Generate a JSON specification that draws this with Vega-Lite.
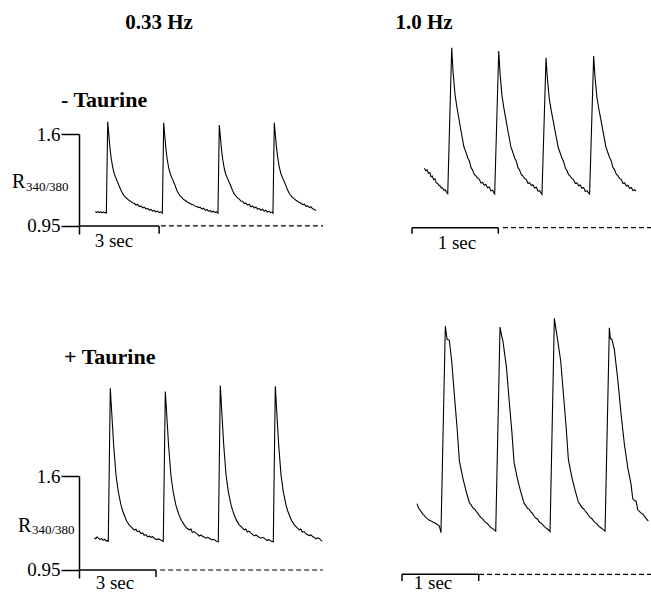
{
"$schema": "https://vega.github.io/schema/vega-lite/v6.json",
"autosize": {"type": "pad"},
"padding": {"left": 11, "top": 11, "right": 0, "bottom": 0},
"background": "white",
"config": {"view": {"stroke": null}, "font": "'Liberation Serif', 'Times New Roman', 'DejaVu Serif', serif", "text": {"font": "'Liberation Serif', 'Times New Roman', 'DejaVu Serif', serif"}, "axis": {"labelFont": "'Liberation Serif', 'Times New Roman', 'DejaVu Serif', serif"}},
"columns": 2,
"spacing": {"row": 242, "column": 79},
"bounds": "flush",
"datasets": {
"tl": [
{"t":0.610,"r":1.052},{"t":0.660,"r":1.046},{"t":0.710,"r":1.051},{"t":0.760,"r":1.045},{"t":0.810,"r":1.050},{"t":0.860,"r":1.043},{"t":0.910,"r":1.049},{"t":0.960,"r":1.044},{"t":1.000,"r":1.047},{"t":1.025,"r":1.038},
{"t":1.075,"r":1.687},{"t":1.110,"r":1.610},{"t":1.150,"r":1.520},{"t":1.199,"r":1.437},{"t":1.262,"r":1.365},{"t":1.322,"r":1.318},{"t":1.375,"r":1.292},{"t":1.423,"r":1.270},{"t":1.465,"r":1.252},{"t":1.509,"r":1.230},{"t":1.565,"r":1.205},{"t":1.637,"r":1.178},{"t":1.695,"r":1.163},{"t":1.755,"r":1.150},{"t":1.824,"r":1.139},{"t":1.885,"r":1.128},{"t":1.945,"r":1.124},{"t":2.005,"r":1.112},{"t":2.071,"r":1.110},{"t":2.135,"r":1.098},{"t":2.195,"r":1.102},{"t":2.255,"r":1.088},{"t":2.322,"r":1.090},{"t":2.385,"r":1.078},{"t":2.445,"r":1.083},{"t":2.505,"r":1.070},{"t":2.573,"r":1.074},{"t":2.635,"r":1.062},{"t":2.695,"r":1.067},{"t":2.755,"r":1.055},{"t":2.820,"r":1.060},{"t":2.875,"r":1.050},{"t":2.935,"r":1.055},{"t":2.995,"r":1.046},{"t":3.055,"r":1.050},{"t":3.122,"r":1.040},
{"t":3.172,"r":1.680},{"t":3.207,"r":1.600},{"t":3.247,"r":1.512},{"t":3.296,"r":1.430},{"t":3.359,"r":1.360},{"t":3.419,"r":1.318},{"t":3.472,"r":1.292},{"t":3.520,"r":1.272},{"t":3.562,"r":1.254},{"t":3.606,"r":1.233},{"t":3.662,"r":1.203},{"t":3.734,"r":1.178},{"t":3.792,"r":1.160},{"t":3.852,"r":1.152},{"t":3.921,"r":1.137},{"t":3.982,"r":1.130},{"t":4.042,"r":1.121},{"t":4.102,"r":1.114},{"t":4.168,"r":1.108},{"t":4.232,"r":1.100},{"t":4.292,"r":1.100},{"t":4.352,"r":1.089},{"t":4.419,"r":1.088},{"t":4.482,"r":1.080},{"t":4.542,"r":1.082},{"t":4.602,"r":1.069},{"t":4.670,"r":1.075},{"t":4.732,"r":1.060},{"t":4.792,"r":1.066},{"t":4.852,"r":1.054},{"t":4.917,"r":1.058},{"t":4.972,"r":1.048},{"t":5.032,"r":1.054},{"t":5.092,"r":1.045},{"t":5.152,"r":1.049},{"t":5.205,"r":1.040},
{"t":5.255,"r":1.664},{"t":5.290,"r":1.590},{"t":5.330,"r":1.505},{"t":5.379,"r":1.425},{"t":5.442,"r":1.356},{"t":5.502,"r":1.312},{"t":5.555,"r":1.288},{"t":5.603,"r":1.268},{"t":5.645,"r":1.250},{"t":5.689,"r":1.230},{"t":5.745,"r":1.204},{"t":5.817,"r":1.175},{"t":5.875,"r":1.162},{"t":5.935,"r":1.148},{"t":6.004,"r":1.140},{"t":6.065,"r":1.126},{"t":6.125,"r":1.125},{"t":6.185,"r":1.110},{"t":6.251,"r":1.111},{"t":6.315,"r":1.097},{"t":6.375,"r":1.103},{"t":6.435,"r":1.086},{"t":6.502,"r":1.091},{"t":6.565,"r":1.077},{"t":6.625,"r":1.084},{"t":6.685,"r":1.069},{"t":6.753,"r":1.073},{"t":6.815,"r":1.061},{"t":6.875,"r":1.068},{"t":6.935,"r":1.054},{"t":7.000,"r":1.061},{"t":7.055,"r":1.048},{"t":7.115,"r":1.053},{"t":7.175,"r":1.044},{"t":7.230,"r":1.048},{"t":7.265,"r":1.040},
{"t":7.315,"r":1.680},{"t":7.350,"r":1.605},{"t":7.390,"r":1.518},{"t":7.439,"r":1.440},{"t":7.502,"r":1.365},{"t":7.562,"r":1.320},{"t":7.615,"r":1.294},{"t":7.663,"r":1.274},{"t":7.705,"r":1.256},{"t":7.749,"r":1.235},{"t":7.805,"r":1.208},{"t":7.877,"r":1.179},{"t":7.935,"r":1.165},{"t":7.995,"r":1.150},{"t":8.064,"r":1.141},{"t":8.125,"r":1.132},{"t":8.185,"r":1.125},{"t":8.245,"r":1.116},{"t":8.311,"r":1.112},{"t":8.375,"r":1.100},{"t":8.435,"r":1.104},{"t":8.495,"r":1.090},{"t":8.562,"r":1.092},{"t":8.625,"r":1.080},{"t":8.685,"r":1.086},{"t":8.745,"r":1.072},{"t":8.812,"r":1.068},{"t":8.876,"r":1.058}
],
"tr": [
{"t":0.143,"r":1.370},{"t":0.160,"r":1.352},{"t":0.175,"r":1.358},{"t":0.190,"r":1.335},{"t":0.205,"r":1.340},{"t":0.220,"r":1.310},{"t":0.235,"r":1.315},{"t":0.250,"r":1.290},{"t":0.265,"r":1.295},{"t":0.280,"r":1.268},{"t":0.297,"r":1.262},{"t":0.312,"r":1.250},{"t":0.326,"r":1.245},{"t":0.340,"r":1.230},{"t":0.355,"r":1.232},{"t":0.370,"r":1.214},{"t":0.385,"r":1.218},{"t":0.400,"r":1.200},{"t":0.414,"r":1.190},
{"t":0.460,"r":2.222},{"t":0.475,"r":2.057},{"t":0.498,"r":1.893},{"t":0.521,"r":1.798},{"t":0.548,"r":1.704},{"t":0.568,"r":1.633},{"t":0.590,"r":1.560},{"t":0.599,"r":1.527},{"t":0.615,"r":1.500},{"t":0.626,"r":1.480},{"t":0.645,"r":1.445},{"t":0.665,"r":1.420},{"t":0.684,"r":1.374},{"t":0.700,"r":1.360},{"t":0.722,"r":1.327},{"t":0.740,"r":1.318},{"t":0.760,"r":1.300},{"t":0.780,"r":1.292},{"t":0.800,"r":1.265},{"t":0.818,"r":1.270},{"t":0.838,"r":1.250},{"t":0.856,"r":1.256},{"t":0.875,"r":1.232},{"t":0.896,"r":1.238},{"t":0.915,"r":1.210},{"t":0.935,"r":1.215},{"t":0.947,"r":1.197},{"t":0.958,"r":1.188},
{"t":1.005,"r":2.199},{"t":1.020,"r":2.040},{"t":1.043,"r":1.880},{"t":1.066,"r":1.790},{"t":1.093,"r":1.700},{"t":1.113,"r":1.628},{"t":1.135,"r":1.560},{"t":1.144,"r":1.525},{"t":1.160,"r":1.497},{"t":1.171,"r":1.478},{"t":1.190,"r":1.442},{"t":1.210,"r":1.418},{"t":1.229,"r":1.372},{"t":1.245,"r":1.360},{"t":1.267,"r":1.325},{"t":1.285,"r":1.316},{"t":1.305,"r":1.298},{"t":1.325,"r":1.290},{"t":1.345,"r":1.262},{"t":1.363,"r":1.268},{"t":1.383,"r":1.248},{"t":1.401,"r":1.254},{"t":1.420,"r":1.230},{"t":1.441,"r":1.236},{"t":1.460,"r":1.208},{"t":1.480,"r":1.212},{"t":1.495,"r":1.195},{"t":1.506,"r":1.186},
{"t":1.553,"r":2.151},{"t":1.568,"r":2.010},{"t":1.591,"r":1.860},{"t":1.614,"r":1.775},{"t":1.641,"r":1.690},{"t":1.661,"r":1.622},{"t":1.683,"r":1.555},{"t":1.692,"r":1.520},{"t":1.708,"r":1.494},{"t":1.719,"r":1.474},{"t":1.738,"r":1.440},{"t":1.758,"r":1.415},{"t":1.777,"r":1.370},{"t":1.793,"r":1.358},{"t":1.815,"r":1.324},{"t":1.833,"r":1.315},{"t":1.853,"r":1.296},{"t":1.873,"r":1.288},{"t":1.893,"r":1.262},{"t":1.911,"r":1.266},{"t":1.931,"r":1.246},{"t":1.949,"r":1.252},{"t":1.968,"r":1.228},{"t":1.989,"r":1.234},{"t":2.008,"r":1.206},{"t":2.028,"r":1.212},{"t":2.045,"r":1.196},{"t":2.058,"r":1.188},
{"t":2.105,"r":2.163},{"t":2.120,"r":2.020},{"t":2.143,"r":1.870},{"t":2.166,"r":1.785},{"t":2.193,"r":1.700},{"t":2.213,"r":1.630},{"t":2.235,"r":1.560},{"t":2.244,"r":1.527},{"t":2.260,"r":1.498},{"t":2.271,"r":1.478},{"t":2.290,"r":1.445},{"t":2.310,"r":1.420},{"t":2.329,"r":1.375},{"t":2.345,"r":1.362},{"t":2.367,"r":1.328},{"t":2.385,"r":1.318},{"t":2.405,"r":1.298},{"t":2.425,"r":1.290},{"t":2.445,"r":1.262},{"t":2.463,"r":1.268},{"t":2.483,"r":1.245},{"t":2.501,"r":1.250},{"t":2.520,"r":1.228},{"t":2.541,"r":1.234},{"t":2.560,"r":1.212},{"t":2.578,"r":1.218},{"t":2.596,"r":1.209}
],
"bl": [
{"t":0.596,"r":1.173},{"t":0.650,"r":1.166},{"t":0.700,"r":1.178},{"t":0.760,"r":1.170},{"t":0.820,"r":1.160},{"t":0.880,"r":1.168},{"t":0.940,"r":1.155},{"t":1.000,"r":1.162},{"t":1.060,"r":1.150},{"t":1.110,"r":1.156},{"t":1.141,"r":1.145},
{"t":1.219,"r":2.206},{"t":1.274,"r":2.041},{"t":1.351,"r":1.811},{"t":1.441,"r":1.605},{"t":1.531,"r":1.490},{"t":1.636,"r":1.398},{"t":1.700,"r":1.360},{"t":1.764,"r":1.329},{"t":1.850,"r":1.290},{"t":1.959,"r":1.260},{"t":2.050,"r":1.245},{"t":2.154,"r":1.226},{"t":2.220,"r":1.232},{"t":2.270,"r":1.215},{"t":2.340,"r":1.220},{"t":2.415,"r":1.202},{"t":2.480,"r":1.206},{"t":2.540,"r":1.190},{"t":2.610,"r":1.195},{"t":2.676,"r":1.179},{"t":2.740,"r":1.184},{"t":2.800,"r":1.176},{"t":2.870,"r":1.180},{"t":2.933,"r":1.168},{"t":3.030,"r":1.160},{"t":3.100,"r":1.165},{"t":3.200,"r":1.155},{"t":3.284,"r":1.148},
{"t":3.362,"r":2.184},{"t":3.417,"r":2.025},{"t":3.494,"r":1.800},{"t":3.584,"r":1.598},{"t":3.674,"r":1.485},{"t":3.779,"r":1.395},{"t":3.843,"r":1.358},{"t":3.907,"r":1.326},{"t":3.993,"r":1.292},{"t":4.102,"r":1.262},{"t":4.193,"r":1.240},{"t":4.297,"r":1.228},{"t":4.360,"r":1.233},{"t":4.413,"r":1.210},{"t":4.490,"r":1.214},{"t":4.558,"r":1.205},{"t":4.620,"r":1.196},{"t":4.683,"r":1.185},{"t":4.750,"r":1.192},{"t":4.819,"r":1.182},{"t":4.880,"r":1.178},{"t":4.943,"r":1.170},{"t":5.010,"r":1.176},{"t":5.076,"r":1.170},{"t":5.173,"r":1.158},{"t":5.243,"r":1.162},{"t":5.340,"r":1.150},{"t":5.426,"r":1.145},
{"t":5.504,"r":2.225},{"t":5.559,"r":2.055},{"t":5.636,"r":1.820},{"t":5.726,"r":1.610},{"t":5.816,"r":1.492},{"t":5.921,"r":1.400},{"t":5.985,"r":1.362},{"t":6.049,"r":1.330},{"t":6.135,"r":1.293},{"t":6.244,"r":1.262},{"t":6.335,"r":1.246},{"t":6.439,"r":1.228},{"t":6.500,"r":1.234},{"t":6.555,"r":1.213},{"t":6.630,"r":1.218},{"t":6.700,"r":1.205},{"t":6.760,"r":1.196},{"t":6.825,"r":1.186},{"t":6.890,"r":1.192},{"t":6.961,"r":1.183},{"t":7.020,"r":1.176},{"t":7.085,"r":1.170},{"t":7.150,"r":1.176},{"t":7.218,"r":1.170},{"t":7.315,"r":1.155},{"t":7.385,"r":1.160},{"t":7.480,"r":1.150},{"t":7.569,"r":1.145},
{"t":7.647,"r":2.220},{"t":7.702,"r":2.050},{"t":7.779,"r":1.815},{"t":7.869,"r":1.608},{"t":7.959,"r":1.490},{"t":8.064,"r":1.398},{"t":8.128,"r":1.360},{"t":8.192,"r":1.330},{"t":8.278,"r":1.292},{"t":8.387,"r":1.262},{"t":8.478,"r":1.244},{"t":8.582,"r":1.228},{"t":8.640,"r":1.234},{"t":8.698,"r":1.212},{"t":8.770,"r":1.216},{"t":8.843,"r":1.200},{"t":8.905,"r":1.194},{"t":8.968,"r":1.188},{"t":9.040,"r":1.192},{"t":9.104,"r":1.180},{"t":9.165,"r":1.176},{"t":9.228,"r":1.165},{"t":9.300,"r":1.172},{"t":9.361,"r":1.168},{"t":9.420,"r":1.156},{"t":9.466,"r":1.150}
],
"br": [
{"t":0.196,"r":1.437},{"t":0.210,"r":1.415},{"t":0.226,"r":1.398},{"t":0.245,"r":1.385},{"t":0.270,"r":1.364},{"t":0.290,"r":1.356},{"t":0.313,"r":1.340},{"t":0.335,"r":1.332},{"t":0.356,"r":1.322},{"t":0.378,"r":1.318},{"t":0.400,"r":1.310},{"t":0.430,"r":1.304},{"t":0.456,"r":1.295},{"t":0.486,"r":1.283},{"t":0.508,"r":1.237},
{"t":0.565,"r":2.661},{"t":0.587,"r":2.570},{"t":0.617,"r":2.563},{"t":0.648,"r":2.420},{"t":0.682,"r":2.190},{"t":0.718,"r":1.960},{"t":0.748,"r":1.731},{"t":0.792,"r":1.616},{"t":0.835,"r":1.524},{"t":0.878,"r":1.443},{"t":0.900,"r":1.430},{"t":0.922,"r":1.409},{"t":0.945,"r":1.400},{"t":0.965,"r":1.386},{"t":0.990,"r":1.370},{"t":1.010,"r":1.352},{"t":1.031,"r":1.340},{"t":1.055,"r":1.330},{"t":1.075,"r":1.315},{"t":1.096,"r":1.306},{"t":1.120,"r":1.295},{"t":1.140,"r":1.282},{"t":1.161,"r":1.271},{"t":1.185,"r":1.265},{"t":1.205,"r":1.255},{"t":1.222,"r":1.248},
{"t":1.278,"r":2.654},{"t":1.300,"r":2.590},{"t":1.315,"r":2.560},{"t":1.361,"r":2.380},{"t":1.395,"r":2.160},{"t":1.431,"r":1.940},{"t":1.461,"r":1.720},{"t":1.505,"r":1.608},{"t":1.548,"r":1.518},{"t":1.591,"r":1.440},{"t":1.613,"r":1.425},{"t":1.635,"r":1.405},{"t":1.658,"r":1.398},{"t":1.678,"r":1.382},{"t":1.703,"r":1.368},{"t":1.723,"r":1.350},{"t":1.744,"r":1.338},{"t":1.768,"r":1.330},{"t":1.788,"r":1.312},{"t":1.809,"r":1.304},{"t":1.833,"r":1.292},{"t":1.853,"r":1.280},{"t":1.874,"r":1.270},{"t":1.898,"r":1.262},{"t":1.918,"r":1.252},{"t":1.930,"r":1.245},
{"t":1.986,"r":2.714},{"t":2.010,"r":2.630},{"t":2.030,"r":2.560},{"t":2.069,"r":2.420},{"t":2.103,"r":2.200},{"t":2.139,"r":1.970},{"t":2.169,"r":1.740},{"t":2.213,"r":1.622},{"t":2.256,"r":1.530},{"t":2.299,"r":1.448},{"t":2.321,"r":1.432},{"t":2.343,"r":1.412},{"t":2.366,"r":1.402},{"t":2.386,"r":1.388},{"t":2.411,"r":1.372},{"t":2.431,"r":1.355},{"t":2.452,"r":1.342},{"t":2.476,"r":1.333},{"t":2.496,"r":1.318},{"t":2.517,"r":1.308},{"t":2.541,"r":1.298},{"t":2.561,"r":1.284},{"t":2.582,"r":1.274},{"t":2.606,"r":1.266},{"t":2.626,"r":1.256},{"t":2.647,"r":1.248},
{"t":2.703,"r":2.649},{"t":2.716,"r":2.575},{"t":2.735,"r":2.570},{"t":2.768,"r":2.500},{"t":2.813,"r":2.290},{"t":2.856,"r":2.053},{"t":2.899,"r":1.846},{"t":2.943,"r":1.685},{"t":2.986,"r":1.570},{"t":3.008,"r":1.470},{"t":3.030,"r":1.458},{"t":3.051,"r":1.455},{"t":3.073,"r":1.396},{"t":3.110,"r":1.375},{"t":3.139,"r":1.364},{"t":3.175,"r":1.340},{"t":3.211,"r":1.317}
]
},
"concat": [
{
"width": 244, "height": 100,
"encoding": {
"x": {"field": "t", "type": "quantitative", "scale": {"domain": [0, 9.139], "nice": false, "zero": false}, "axis": null},
"y": {"field": "r", "type": "quantitative", "scale": {"domain": [0.893, 1.6], "nice": false, "zero": false},
"axis": {"values": [0.95, 1.6], "format": ".3~g", "title": null, "grid": false, "domainColor": "black", "domainWidth": 1.5, "tickColor": "black", "tickWidth": 1.5, "tickSize": 18, "labelPadding": 1, "labelFontSize": 19, "labelColor": "black"}}
},
"layer": [
{"data": {"name": "tl"}, "mark": {"type": "line", "color": "black", "strokeWidth": 1.1}, "encoding": {}},
{"data": {"values": [{"t":0,"t2":3,"r":0.95,"r2":0.95},{"t":3,"t2":3,"r":0.95,"r2":0.895}]}, "mark": {"type": "rule", "color": "black", "strokeWidth": 1.5}, "encoding": {"x2": {"field": "t2"}, "y2": {"field": "r2"}}},
{"data": {"values": [{"t":3.07,"t2":9.139,"r":0.95,"r2":0.95}]}, "mark": {"type": "rule", "color": "black", "strokeWidth": 1.2, "strokeDash": [5, 3]}, "encoding": {"x2": {"field": "t2"}, "y2": {"field": "r2"}}},
{"data": {"values": [{"t":3.0,"r":2.342,"label":"0.33 Hz"}]}, "mark": {"type": "text", "fontWeight": "bold", "fontSize": 21, "align": "center", "baseline": "alphabetic", "color": "black"}, "encoding": {"text": {"field": "label"}}},
{"data": {"values": [{"t":-0.674,"r":1.791,"label":"- Taurine"}]}, "mark": {"type": "text", "fontWeight": "bold", "fontSize": 22, "align": "left", "baseline": "alphabetic", "color": "black"}, "encoding": {"text": {"field": "label"}}},
{"data": {"values": [{"t":-2.51,"r":1.219,"label":"R"}]}, "mark": {"type": "text", "fontSize": 20, "align": "left", "baseline": "alphabetic", "color": "black"}, "encoding": {"text": {"field": "label"}}},
{"data": {"values": [{"t":-1.985,"r":1.197,"label":"340/380"}]}, "mark": {"type": "text", "fontSize": 13, "align": "left", "baseline": "alphabetic", "color": "black"}, "encoding": {"text": {"field": "label"}}},
{"data": {"values": [{"t":1.31,"r":0.798,"label":"3 sec"}]}, "mark": {"type": "text", "fontSize": 19, "align": "center", "baseline": "alphabetic", "color": "black"}, "encoding": {"text": {"field": "label"}}}
]
},
{
"width": 250, "height": 100,
"encoding": {
"x": {"field": "t", "type": "quantitative", "scale": {"domain": [-0.116, 2.781], "nice": false, "zero": false}, "axis": null},
"y": {"field": "r", "type": "quantitative", "scale": {"domain": [0.9055, 1.612], "nice": false, "zero": false}, "axis": null}
},
"layer": [
{"data": {"name": "tr"}, "mark": {"type": "line", "color": "black", "strokeWidth": 1.1}, "encoding": {}},
{"data": {"values": [{"t":0,"t2":1,"r":0.95,"r2":0.95},{"t":0,"t2":0,"r":0.95,"r2":0.908},{"t":1,"t2":1,"r":0.95,"r2":0.908}]}, "mark": {"type": "rule", "color": "black", "strokeWidth": 1.5}, "encoding": {"x2": {"field": "t2"}, "y2": {"field": "r2"}}},
{"data": {"values": [{"t":1.054,"t2":2.775,"r":0.95,"r2":0.95}]}, "mark": {"type": "rule", "color": "black", "strokeWidth": 1.2, "strokeDash": [5, 3]}, "encoding": {"x2": {"field": "t2"}, "y2": {"field": "r2"}}},
{"data": {"values": [{"t":0.139,"r":2.354,"label":"1.0 Hz"}]}, "mark": {"type": "text", "fontWeight": "bold", "fontSize": 21, "align": "center", "baseline": "alphabetic", "color": "black"}, "encoding": {"text": {"field": "label"}}},
{"data": {"values": [{"t":0.521,"r":0.799,"label":"1 sec"}]}, "mark": {"type": "text", "fontSize": 19, "align": "center", "baseline": "alphabetic", "color": "black"}, "encoding": {"text": {"field": "label"}}}
]
},
{
"width": 244, "height": 102,
"encoding": {
"x": {"field": "t", "type": "quantitative", "scale": {"domain": [0, 9.505], "nice": false, "zero": false}, "axis": null},
"y": {"field": "r", "type": "quantitative", "scale": {"domain": [0.8946, 1.6], "nice": false, "zero": false},
"axis": {"values": [0.95, 1.6], "format": ".3~g", "title": null, "grid": false, "domainColor": "black", "domainWidth": 1.5, "tickColor": "black", "tickWidth": 1.5, "tickSize": 18, "labelPadding": 1, "labelFontSize": 19, "labelColor": "black"}}
},
"layer": [
{"data": {"name": "bl"}, "mark": {"type": "line", "color": "black", "strokeWidth": 1.1}, "encoding": {}},
{"data": {"values": [{"t":0,"t2":3,"r":0.95,"r2":0.95},{"t":3,"t2":3,"r":0.95,"r2":0.9016}]}, "mark": {"type": "rule", "color": "black", "strokeWidth": 1.5}, "encoding": {"x2": {"field": "t2"}, "y2": {"field": "r2"}}},
{"data": {"values": [{"t":3.16,"t2":9.505,"r":0.95,"r2":0.95}]}, "mark": {"type": "rule", "color": "black", "strokeWidth": 1.2, "strokeDash": [5, 3]}, "encoding": {"x2": {"field": "t2"}, "y2": {"field": "r2"}}},
{"data": {"values": [{"t":-0.584,"r":2.375,"label":"+ Taurine"}]}, "mark": {"type": "text", "fontWeight": "bold", "fontSize": 22, "align": "left", "baseline": "alphabetic", "color": "black"}, "encoding": {"text": {"field": "label"}}},
{"data": {"values": [{"t":-2.376,"r":1.213,"label":"R"}]}, "mark": {"type": "text", "fontSize": 20, "align": "left", "baseline": "alphabetic", "color": "black"}, "encoding": {"text": {"field": "label"}}},
{"data": {"values": [{"t":-1.831,"r":1.199,"label":"340/380"}]}, "mark": {"type": "text", "fontSize": 13, "align": "left", "baseline": "alphabetic", "color": "black"}, "encoding": {"text": {"field": "label"}}},
{"data": {"values": [{"t":1.40,"r":0.819,"label":"3 sec"}]}, "mark": {"type": "text", "fontSize": 19, "align": "center", "baseline": "alphabetic", "color": "black"}, "encoding": {"text": {"field": "label"}}}
]
},
{
"width": 250, "height": 102,
"encoding": {
"x": {"field": "t", "type": "quantitative", "scale": {"domain": [0, 3.259], "nice": false, "zero": false}, "axis": null},
"y": {"field": "r", "type": "quantitative", "scale": {"domain": [0.9245, 1.6275], "nice": false, "zero": false}, "axis": null}
},
"layer": [
{"data": {"name": "br"}, "mark": {"type": "line", "color": "black", "strokeWidth": 1.1}, "encoding": {}},
{"data": {"values": [{"t":0,"t2":1,"r":0.95,"r2":0.95},{"t":0,"t2":0,"r":0.95,"r2":0.904},{"t":1,"t2":1,"r":0.95,"r2":0.904}]}, "mark": {"type": "rule", "color": "black", "strokeWidth": 1.5}, "encoding": {"x2": {"field": "t2"}, "y2": {"field": "r2"}}},
{"data": {"values": [{"t":1.004,"t2":3.25,"r":0.95,"r2":0.95}]}, "mark": {"type": "rule", "color": "black", "strokeWidth": 1.2, "strokeDash": [5, 3]}, "encoding": {"x2": {"field": "t2"}, "y2": {"field": "r2"}}},
{"data": {"values": [{"t":0.404,"r":0.85,"label":"1 sec"}]}, "mark": {"type": "text", "fontSize": 19, "align": "center", "baseline": "alphabetic", "color": "black"}, "encoding": {"text": {"field": "label"}}}
]
}
]
}
